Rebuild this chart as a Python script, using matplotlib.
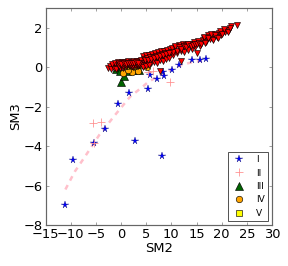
import matplotlib
matplotlib.use('Agg')
import matplotlib.pyplot as plt

star_x = [-11.05, -9.5, -5.4, -3.1, -0.6, 1.6, 2.85, 5.3, 5.8, 7.2, 8.2, 8.4, 8.55, 10.2, 11.5, 14.05, 15.7, 16.9]
star_y = [-6.98, -4.7, -3.82, -3.13, -1.88, -1.3, -3.72, -1.1, -0.4, -0.61, -4.48, -0.24, -0.44, -0.15, 0.09, 0.34, 0.35, 0.4]
plus_x = [-5.6, -3.9, -5.3, 5.4, 6.4, 9.7]
plus_y = [-2.82, -2.79, -3.85, -0.24, -0.19, -0.75]
tri_x = [0.07, 0.6, -1.0, 1.2, 2.4, 3.6, -0.2]
tri_y = [-0.74, -0.45, -0.08, -0.2, -0.15, -0.12, -0.2]
circ_x = [0.4, 2.1, 3.3, 5.1, 1.4]
circ_y = [-0.29, -0.24, -0.2, 0.02, -0.12]
sq_x = [0.9, 2.6, 3.9]
sq_y = [0.05, 0.08, 0.1]
curve_x = [-11.05, -9.2, -7.15, -4.3, -1.2, 1.8, 4.45, 5.4, 8.55, 11.9, 13.9, 16.85]
curve_y = [-6.2, -5.3, -4.53, -3.43, -2.43, -1.5, -0.96, -0.75, -0.29, 0.1, 0.24, 0.36]
red_x = [-2.5, -2.2, -1.9, -1.6, -1.3, -1.0, -0.7, -0.4, -0.1, 0.2, 0.5, 0.8, 1.1, 1.4, 1.7, 2.0, 2.3, 2.6, 2.9, 3.2,
         3.5, 3.8, -1.8, -1.1, -0.5, 0.1, 0.7, 1.3, 1.9, 2.5, 3.1, 3.7, -0.9, -0.2, 0.4, 1.0, 1.6, 2.2, 2.8, 3.4,
         4.0, 4.3, 4.6, 4.9, 5.2, 5.5, 5.8, 6.1, 6.4, 6.7, 7.0, 7.3, 7.6, 7.9, 8.2, 8.5, 8.8, 9.1, 9.4, 9.7,
         4.2, 4.5, 4.8, 5.1, 5.4, 5.7, 6.0, 6.3, 6.6, 6.9, 7.2, 7.5, 7.8, 8.1, 8.4, 8.7, 9.0, 9.3, 9.6, 9.9,
         10.1, 10.4, 10.8, 11.2, 11.5, 11.9, 12.3, 12.6, 13.0, 13.3, 13.7, 14.1, 14.5, 14.8, 15.2, 15.6,
         10.3, 10.7, 11.1, 11.6, 12.0, 12.5, 12.9, 13.4, 13.9, 14.3, 14.7, 15.1, 15.5, 15.9,
         16.2, 16.5, 16.9, 17.2, 17.6, 17.9, 18.3, 18.6, 19.0, 19.4, 19.8, 20.2, 20.6, 21.0, 21.4, 21.9, 23.1,
         16.4, 16.8, 17.3, 17.8, 18.2, 18.7, 19.2, 19.6, 20.1, 20.5, 21.2, 21.7,
         4.4, 5.0, 5.6, 15.0, 11.9, 7.8, 16.7,
         -0.6, -0.3, 0.0, 0.3, 0.6, 0.9, 1.2, 1.5, 1.8, 2.1, 2.4, 2.7, 3.0, 3.3, 3.6,
         -0.4, 0.0, 0.5, 0.9, 1.3, 1.7, 2.1, 2.5, 2.9, 3.3,
         4.7, 5.3, 5.9, 6.5, 7.1, 7.7, 8.3, 8.9, 9.5]
red_y = [-0.02, 0.05, -0.1, 0.08, -0.06, 0.12, -0.04, 0.15, 0.02, 0.18, 0.05, 0.2, 0.04, 0.22, 0.07, 0.17, 0.03, 0.2, 0.06, 0.24,
         0.1, 0.3, 0.14, 0.2, 0.24, 0.27, 0.28, 0.3, 0.28, 0.31, 0.33, 0.13, -0.08, -0.02, -0.03, 0.1, 0.12, 0.1, 0.14, 0.08,
         0.35, 0.55, 0.2, 0.6, 0.3, 0.62, 0.25, 0.68, 0.4, 0.72, 0.35, 0.75, 0.45, 0.8, 0.5, 0.82, 0.55, 0.85, 0.6, 0.9,
         0.12, 0.42, 0.1, 0.45, 0.15, 0.52, 0.2, 0.5, 0.28, 0.55, 0.22, 0.6, 0.35, 0.65, 0.3, 0.7, 0.42, 0.7, 0.48, 0.75,
         0.95, 0.62, 1.0, 0.72, 1.1, 0.8, 1.15, 0.78, 1.12, 0.85, 1.2, 0.92, 1.28, 1.0, 1.32, 1.08,
         0.75, 1.05, 0.8, 1.02, 0.9, 1.08, 1.0, 1.18, 1.08, 1.1, 1.16, 1.2, 1.25, 1.18,
         1.4, 1.5, 1.35, 1.62, 1.42, 1.55, 1.45, 1.7, 1.55, 1.72, 1.62, 1.8, 1.78, 1.9, 1.88, 2.1, 2.13,
         1.55, 1.28, 1.48, 1.7, 1.4, 1.62, 1.5, 1.82, 1.68, 1.92, 1.78, 2.0,
         0.0, 0.05, 0.1, 0.74, 0.32, -0.19, 1.23,
         0.1, 0.06, 0.12, 0.08, 0.13, 0.07, 0.14, 0.09, 0.12, 0.07, 0.13, 0.09, 0.14, 0.1, 0.16,
         0.2, 0.18, 0.22, 0.17, 0.21, 0.19, 0.23, 0.2, 0.24, 0.21,
         0.35, 0.38, 0.42, 0.47, 0.5, 0.55, 0.62, 0.65, 0.72]

plt.rcParams['font.family'] = 'DejaVu Sans'
fig = plt.figure(figsize=(288/72, 266/72), dpi=72)
ax = fig.add_axes([45.5/288, 1-225/266, (272-45.5)/288, (225-8)/266])

frame = '#666666'
ms = dict(markeredgecolor='black', markeredgewidth=0.6, linestyle='none')
ax.plot(curve_x, curve_y, color='#ffc0cb', lw=2.5, ls=(0, (2, 2)), zorder=1)
ax.plot(star_x, star_y, marker='*', color='#0000ff', ms=7.5, markeredgecolor='#000066',
        markeredgewidth=0.3, linestyle='none', label='I', zorder=3)
ax.plot(plus_x, plus_y, marker='+', color='#ff8f8f', ms=8, mew=0.8, ls='none', label='II', zorder=3)
ax.plot(tri_x, tri_y, marker='^', color='#006400', ms=7.5, label='III', zorder=3, **ms)
ax.plot(circ_x, circ_y, marker='o', color='#ffa500', ms=6.5, label='IV', zorder=3, **ms)
ax.plot(sq_x, sq_y, marker='s', color='#ffff00', ms=6.5, label='V', zorder=3, **ms)
ax.plot(red_x, red_y, marker='v', color='#ff0000', ms=6, zorder=4, **ms)

ax.set_xlim(-15, 30)
ax.set_ylim(-8, 3)
ax.set_xticks([-15, -10, -5, 0, 5, 10, 15, 20, 25, 30])
ax.set_yticks([-8, -6, -4, -2, 0, 2])
ax.tick_params(direction='in', length=3, width=0.6, color=frame, top=True, right=True, labelsize=13, pad=3)
for s in ax.spines.values():
    s.set_color(frame)
    s.set_linewidth(1.2)
ax.set_xlabel('SM2', fontsize=13, labelpad=1)
ax.set_ylabel('SM3', fontsize=13, labelpad=1)

leg = ax.legend(loc='lower right', bbox_to_anchor=(267.7/288, 1-220.7/266), bbox_transform=fig.transFigure,
                fontsize=9, fancybox=False, framealpha=1, edgecolor='#444444', numpoints=1,
                borderaxespad=0, labelspacing=0.5, handletextpad=1.1, borderpad=0.3, handlelength=1.7)
leg.get_frame().set_linewidth(0.9)

fig.savefig('out.png', dpi=72)
